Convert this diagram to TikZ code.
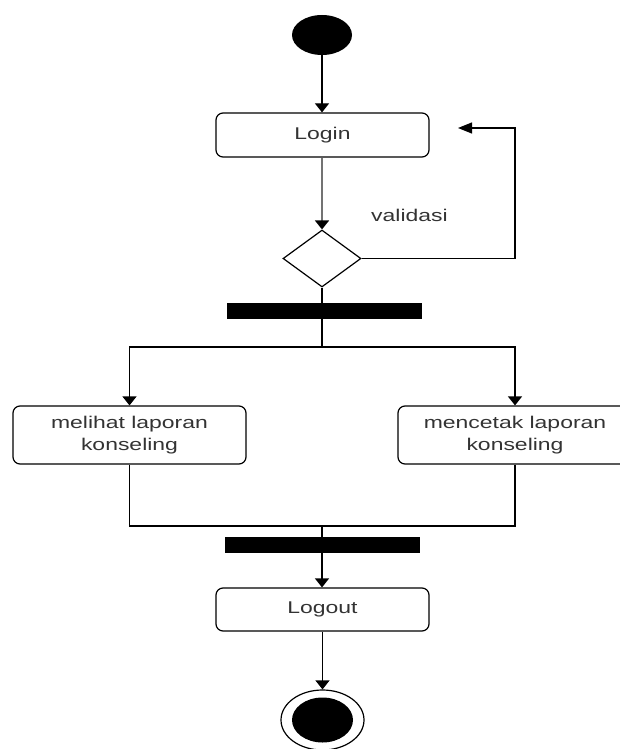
\documentclass[tikz,border=0pt]{standalone}
\usepackage{fontspec}
\setmainfont{Liberation Sans}[FakeStretch=1.35]
\usetikzlibrary{shapes.geometric,arrows.meta}
\definecolor{txt}{RGB}{51,51,51}
\begin{document}
\begin{tikzpicture}[x=1pt,y=-1pt,
  every node/.style={font=\fontsize{17}{22}\selectfont, text=txt},
  act/.style={draw=black, line width=1.2pt, rounded corners=7pt, align=center, inner sep=0pt},
  bar/.style={fill=black, draw=none, inner sep=0pt, minimum width=195pt, minimum height=16pt},
  flow/.style={line width=1.2pt, -{Triangle[width=14pt,length=9pt]}},
  plain/.style={line width=1.2pt}]
\useasboundingbox (0,0) rectangle (619,749);
% start
\node[ellipse, fill=black, inner sep=0pt, minimum width=60pt, minimum height=40pt] (start) at (322,35) {};
% login
\node[act, minimum width=213pt, minimum height=44pt] (login) at (322.5,135) {Login};
% decision
\node[diamond, draw=black, line width=1.2pt, inner sep=0pt, aspect=1.37, minimum width=78pt, minimum height=57pt] (dec) at (322,258.5) {};
\node (val) at (409.5,215) {validasi};
% fork
\node[bar] (fork1) at (324.5,311) {};
% activities
\node[act, minimum width=233pt, minimum height=58pt] (lihat) at (129.5,435) {melihat laporan\\konseling};
\node[act, minimum width=234pt, minimum height=58pt] (cetak) at (515,435) {mencetak laporan\\konseling};
% join
\node[bar] (fork2) at (322.5,545) {};
% logout
\node[act, minimum width=213pt, minimum height=43pt] (logout) at (322.5,609.5) {Logout};
% end
\node[ellipse, draw=black, line width=1.2pt, fill=white, inner sep=0pt, minimum width=83pt, minimum height=60pt] (endo) at (322.5,720) {};
\node[ellipse, fill=black, inner sep=0pt, minimum width=61pt, minimum height=45pt] (endi) at (322.5,720) {};
% coordinates
\coordinate (loopend) at (458,128);
\coordinate (split) at (322,347);
\coordinate (joinpt) at (322,526);
% connectors
\draw[flow] (start.south) -- (start.south |- login.north);
\draw[draw=black!55, line width=1.8pt, -{Triangle[width=14pt,length=9pt,color=black]}] (login.south -| dec.north) -- (dec.north);
\draw[line width=1.2pt, -{Triangle[width=11pt,length=14pt]}] (dec.east) -| (515,128) -- (loopend);
\draw[plain] (dec.south) -- (dec.south |- fork1.north);
\draw[plain] (split |- fork1.south) -- (split);
\draw[flow] (split) -| (lihat.north);
\draw[flow] (split) -| (cetak.north);
\draw[plain] (lihat.south) |- (joinpt);
\draw[plain] (cetak.south) |- (joinpt);
\draw[plain] (joinpt) -- (joinpt |- fork2.north);
\draw[flow] (joinpt |- fork2.south) -- (joinpt |- logout.north);
\draw[flow] (logout.south -| endo.north) -- (endo.north);
\end{tikzpicture}
\end{document}
